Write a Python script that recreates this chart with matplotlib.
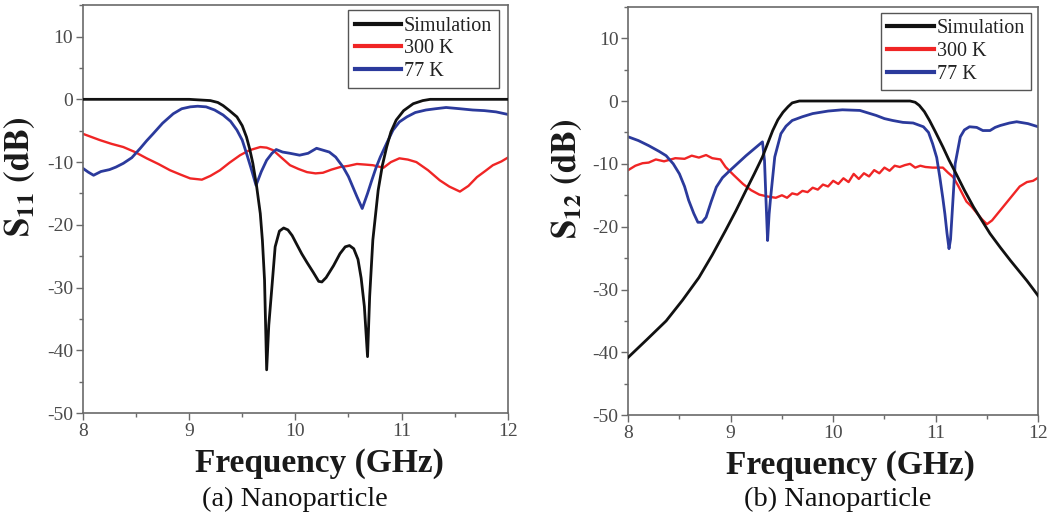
import matplotlib
matplotlib.use("Agg")
import matplotlib.pyplot as plt
from matplotlib.ticker import MultipleLocator

# ---------------- data (a) S11 ----------------
sim_a_f = [8.0, 9.0, 9.2, 9.27, 9.32, 9.38, 9.45, 9.50, 9.54, 9.57, 9.60, 9.635, 9.67, 9.69, 9.71, 9.73,
           9.75, 9.78, 9.81, 9.85, 9.89, 9.93, 9.97, 10.01, 10.06, 10.11, 10.17, 10.22, 10.25, 10.29,
           10.36, 10.42, 10.47, 10.51, 10.55, 10.59, 10.62, 10.65, 10.68, 10.70, 10.73, 10.78, 10.82,
           10.86, 10.90, 10.95, 11.02, 11.11, 11.2, 11.27, 12.0]
sim_a_v = [0.0, 0.0, -0.2, -0.5, -1.0, -1.8, -2.8, -4.2, -6.0, -7.9, -10.2, -13.8, -18.2, -22.5, -28.8, -43.1,
           -36.0, -29.8, -23.5, -21.0, -20.5, -20.8, -21.7, -23.0, -24.6, -26.0, -27.6, -29.0, -29.1, -28.4,
           -26.5, -24.6, -23.5, -23.3, -23.8, -25.5, -28.5, -33.0, -41.0, -31.4, -22.4, -14.5, -10.5,
           -7.6, -5.2, -3.3, -1.8, -0.7, -0.2, 0.0, 0.0]

k77_a_f = [8.0, 8.05, 8.10, 8.17, 8.25, 8.31, 8.38, 8.46, 8.54, 8.60, 8.66, 8.75, 8.85, 8.93, 9.01, 9.08,
           9.16, 9.24, 9.32, 9.39, 9.45, 9.50, 9.54, 9.58, 9.63, 9.68, 9.73, 9.78, 9.82, 9.88, 9.95,
           10.04, 10.12, 10.20, 10.26, 10.32, 10.38, 10.45, 10.50, 10.54, 10.58, 10.63, 10.68, 10.72,
           10.76, 10.80, 10.86, 10.92, 10.98, 11.05, 11.13, 11.23, 11.32, 11.42, 11.55, 11.67, 11.78,
           11.89, 12.0]
k77_a_v = [-11.0, -11.6, -12.1, -11.5, -11.2, -10.8, -10.2, -9.3, -7.8, -6.6, -5.5, -3.8, -2.3, -1.5, -1.2, -1.1,
           -1.2, -1.7, -2.5, -3.5, -4.9, -6.5, -8.6, -10.8, -13.7, -11.5, -9.7, -8.6, -8.0, -8.4, -8.6,
           -8.9, -8.6, -7.8, -8.1, -8.4, -9.2, -10.8, -12.3, -13.9, -15.5, -17.4, -15.0, -12.9,
           -10.9, -9.2, -7.0, -4.9, -3.6, -2.8, -2.1, -1.7, -1.5, -1.3, -1.5, -1.7, -1.8,
           -2.0, -2.4]

k300_a_f = [8.0, 8.08, 8.16, 8.27, 8.38, 8.49, 8.60, 8.71, 8.82, 8.92, 9.01, 9.12, 9.20, 9.29, 9.38, 9.48,
            9.57, 9.67, 9.73, 9.79, 9.87, 9.95, 10.03, 10.11, 10.19, 10.26, 10.34, 10.42, 10.50, 10.58,
            10.66, 10.73, 10.83, 10.90, 10.98, 11.06, 11.14, 11.25, 11.36, 11.45, 11.55, 11.63, 11.71,
            11.79, 11.86, 11.94, 12.0]
k300_a_v = [-5.5, -6.0, -6.5, -7.1, -7.6, -8.4, -9.4, -10.3, -11.3, -12.0, -12.6, -12.8, -12.2, -11.3, -10.1, -8.9,
            -8.1, -7.6, -7.7, -8.1, -9.3, -10.5, -11.1, -11.6, -11.8, -11.7, -11.2, -10.8, -10.6, -10.3,
            -10.4, -10.5, -10.9, -10.0, -9.4, -9.6, -10.0, -11.3, -12.9, -13.9, -14.7, -13.8, -12.4,
            -11.4, -10.5, -9.9, -9.3]

# ---------------- data (b) S12 ----------------
sim_b_f = [8.0, 8.18, 8.37, 8.53, 8.69, 8.82, 8.95, 9.05, 9.15, 9.23, 9.31, 9.36, 9.41, 9.46, 9.51, 9.56,
           9.60, 9.67, 10.75, 10.80, 10.84, 10.89, 10.94, 11.00, 11.07, 11.13, 11.20, 11.28, 11.37, 11.45,
           11.53, 11.63, 11.73, 11.81, 11.89, 11.95, 12.0]
sim_b_v = [-40.8, -38.0, -35.0, -31.7, -28.1, -24.5, -20.6, -17.5, -14.2, -11.6, -8.9, -6.8, -4.7, -3.0, -1.8, -0.9,
           -0.3, 0.0, 0.0, -0.2, -0.7, -1.7, -3.1, -5.0, -7.3, -9.4, -11.6, -14.2, -16.9, -19.0,
           -21.1, -23.3, -25.4, -27.0, -28.6, -29.9, -31.0]

k77_b_f = [8.0, 8.10, 8.20, 8.30, 8.37, 8.44, 8.50, 8.55, 8.59, 8.64, 8.68, 8.72, 8.76, 8.81, 8.86, 8.92,
           8.99, 9.07, 9.15, 9.23, 9.31, 9.33, 9.345, 9.36, 9.375, 9.39, 9.43, 9.49, 9.54, 9.60, 9.70,
           9.80, 9.95, 10.09, 10.26, 10.34, 10.42, 10.50, 10.58, 10.68, 10.78, 10.88, 10.93, 10.97, 11.01,
           11.04, 11.07, 11.09, 11.11, 11.13, 11.145, 11.16, 11.19, 11.24, 11.28, 11.33, 11.40, 11.46,
           11.53, 11.58, 11.63, 11.72, 11.79, 11.90, 12.0]
k77_b_v = [-5.7, -6.3, -7.1, -8.0, -8.7, -10.0, -11.6, -13.6, -15.8, -17.9, -19.3, -19.3, -18.5, -16.0, -13.7, -12.2,
           -11.1, -9.9, -8.7, -7.6, -6.5, -9.5, -16.0, -22.2, -18.0, -15.3, -8.9, -5.2, -4.0, -3.1, -2.5,
           -2.0, -1.6, -1.4, -1.5, -1.9, -2.3, -2.8, -3.1, -3.4, -3.5, -4.1, -5.0, -6.8, -9.0,
           -12.1, -15.5, -18.0, -21.0, -23.5, -22.0, -18.0, -10.0, -5.7, -4.6, -4.1, -4.2, -4.7,
           -4.7, -4.2, -3.9, -3.5, -3.3, -3.6, -4.1]

k300_b_f = [8.0, 8.07, 8.14, 8.2, 8.27, 8.35, 8.46, 8.55, 8.62, 8.69, 8.76, 8.82, 8.9, 8.95, 9.03, 9.12,
            9.2, 9.28, 9.36, 9.44, 9.5, 9.55, 9.6, 9.65, 9.7, 9.75, 9.8, 9.85, 9.9, 9.95, 10.0, 10.05,
            10.1, 10.15, 10.2, 10.25, 10.3, 10.35, 10.4, 10.45, 10.5, 10.55, 10.6, 10.65, 10.7, 10.75,
            10.8, 10.85, 10.9, 10.97, 11.07, 11.12, 11.17, 11.22, 11.3, 11.35, 11.4, 11.45, 11.5, 11.55,
            11.63, 11.7, 11.76, 11.82, 11.89, 11.95, 12.0]
k300_b_v = [-11.0, -10.3, -9.9, -9.8, -9.3, -9.6, -9.1, -9.2, -8.7, -9.0, -8.6, -9.1, -9.3, -10.5, -11.8, -13.2,
            -14.2, -14.9, -15.2, -15.4, -15.0, -15.4, -14.7, -14.9, -14.3, -14.5, -13.8, -14.1, -13.3, -13.6, -12.7, -13.2,
            -12.3, -12.9, -11.6, -12.4, -11.5, -12.0, -11.0, -11.5, -10.6, -11.1, -10.3, -10.5, -10.2, -10.0,
            -10.6, -10.3, -10.5, -10.6, -10.6, -11.4, -12.1, -13.5, -16.0, -16.8, -17.8, -18.8, -19.6, -19.0,
            -17.4, -16.0, -14.8, -13.6, -12.9, -12.7, -12.2]

legend_labels = ["Simulation", "300 K", "77 K"]
x_ticks = [8, 9, 10, 11, 12]
y_ticks = [-50, -40, -30, -20, -10, 0, 10]
captions = ["(a) Nanoparticle", "(b) Nanoparticle"]
ylabels = [r"$\mathbf{S_{11}}$ $\mathbf{(dB)}$", r"$\mathbf{S_{12}}$ $\mathbf{(dB)}$"]

# ---------------- drawing ----------------
plt.rcParams["font.family"] = ["Liberation Serif", "DejaVu Serif"]
plt.rcParams["mathtext.fontset"] = "stix"
plt.rcParams["axes.unicode_minus"] = False

C_SIM = "#111111"
C_300 = "#f02525"
C_77 = "#2b3a9c"
SPINE = "#6a6a6a"
TICKC = "#4a4a4a"

fig = plt.figure(figsize=(10.54, 5.19), dpi=100)
axA = fig.add_axes([0.0787, 0.204, 0.403, 0.786])
axB = fig.add_axes([0.596, 0.200, 0.389, 0.787])

series = [
    (axA, sim_a_f, sim_a_v, k300_a_f, k300_a_v, k77_a_f, k77_a_v),
    (axB, sim_b_f, sim_b_v, k300_b_f, k300_b_v, k77_b_f, k77_b_v),
]

label_x = [0.557, 0.541]
ylab_x = [-0.108, -0.107]
leg_anchor = [(0.979, 0.988), (0.983, 0.985)]

for i, (ax, sf, sv, rf, rv, bf, bv) in enumerate(series):
    ax.plot(sf, sv, color=C_SIM, lw=2.0, label=legend_labels[0], zorder=3)
    ax.plot(rf, rv, color=C_300, lw=1.7, label=legend_labels[1], zorder=2)
    ax.plot(bf, bv, color=C_77, lw=2.0, label=legend_labels[2], zorder=2)
    ax.set_xlim(8, 12)
    ax.set_ylim(-50, 15)
    ax.set_xticks(x_ticks)
    ax.set_yticks(y_ticks)
    ax.xaxis.set_minor_locator(MultipleLocator(0.5))
    ax.yaxis.set_minor_locator(MultipleLocator(5))
    ax.tick_params(which="both", direction="out", colors=SPINE, labelcolor=TICKC, labelsize=14)
    ax.tick_params(which="major", length=5, width=1.0, pad=2)
    ax.tick_params(which="minor", length=3, width=1.0)
    for sp in ax.spines.values():
        sp.set_color(SPINE)
        sp.set_linewidth(1.2)
    ax.set_xlabel("Frequency (GHz)", fontsize=24, fontweight="bold", color="#1a1a1a")
    ax.xaxis.set_label_coords(label_x[i], -0.085)
    ax.set_ylabel(ylabels[i], fontsize=25, color="#1a1a1a")
    ax.yaxis.set_label_coords(ylab_x[i], 0.58)
    leg = ax.legend(loc="upper right", bbox_to_anchor=leg_anchor[i], borderaxespad=0,
                    fontsize=14.5, handlelength=2.3, handletextpad=0.15, labelspacing=0.18,
                    borderpad=0.32, fancybox=False, framealpha=1, edgecolor="#555555")
    leg.get_frame().set_linewidth(1.0)
    for line in leg.get_lines():
        line.set_linewidth(3.0)
    for t in leg.get_texts():
        t.set_color("#222222")

fig.text(0.280, 0.037, captions[0], fontsize=20.5, ha="center", va="center", color="#111111")
fig.text(0.795, 0.037, captions[1], fontsize=20.5, ha="center", va="center", color="#111111")

fig.savefig("out.png", dpi=100)
